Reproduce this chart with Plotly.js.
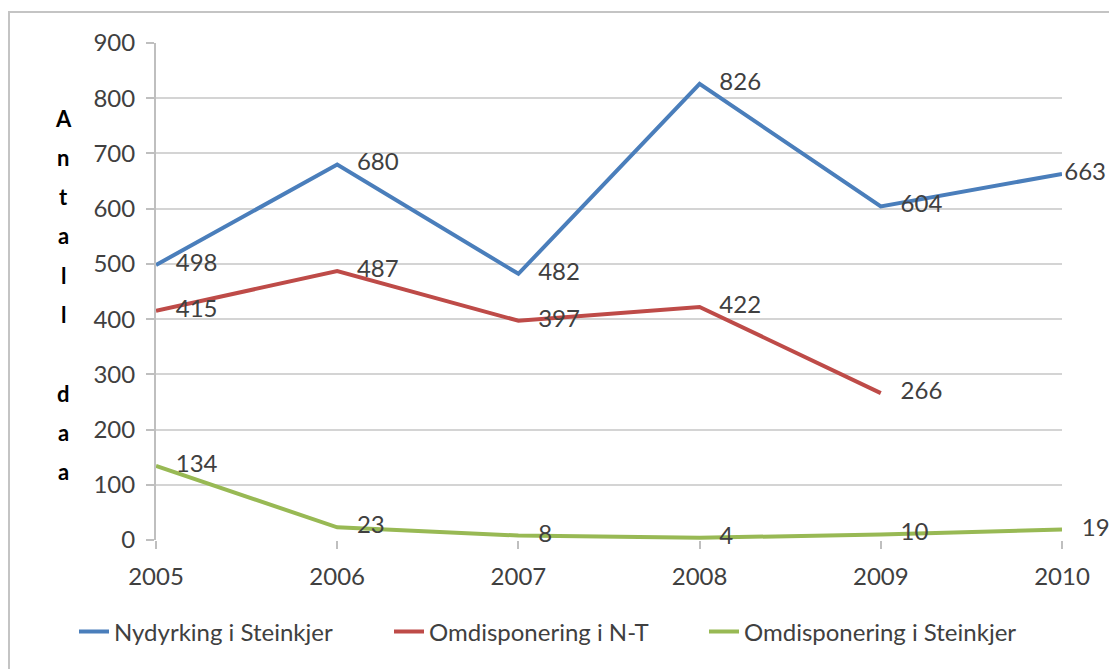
<!DOCTYPE html>
<html>
<head>
<meta charset="utf-8">
<script src="https://cdn.plot.ly/plotly-3.0.1.min.js"></script>
<style>html,body{margin:0;padding:0;background:#fff;}#chart{width:1109px;height:669px;}</style>
</head>
<body>
<div id="chart"></div>
<script>
const years = [2005, 2006, 2007, 2008, 2009, 2010];
const seriesNames = ["Nydyrking i Steinkjer", "Omdisponering i N-T", "Omdisponering i Steinkjer"];
const nydyrkingSteinkjer = [498, 680, 482, 826, 604, 663];
const omdispNT = [415, 487, 397, 422, 266, null];
const omdispSteinkjer = [134, 23, 8, 4, 10, 19];
const yTicks = [0, 100, 200, 300, 400, 500, 600, 700, 800, 900];
const yTitle = "Antall daa";

const colors = ["#4A7EBB", "#BE4B48", "#98B954"];
const font = "Lato, 'Open Sans', sans-serif";

function mk(name, vals, color, sizes) {
  return {
    x: years, y: vals, name: name, type: "scatter", mode: "lines+markers+text",
    line: {color: color, width: 4},
    marker: {size: sizes, color: "rgba(0,0,0,0)", line: {width: 0, color: "rgba(0,0,0,0)"}},
    text: vals.map(v => v === null ? "" : String(v)),
    textposition: "middle right",
    textfont: {family: font, size: 24, color: "#404040"},
    cliponaxis: false, hoverinfo: "skip", connectgaps: false
  };
}

const data = [
  mk(seriesNames[0], nydyrkingSteinkjer, colors[0], [30, 30, 30, 30, 30, 2]),
  mk(seriesNames[1], omdispNT, colors[1], 30),
  mk(seriesNames[2], omdispSteinkjer, colors[2], 30)
];

// plot area geometry (pixels) used for paper conversions of decorations
const W = 1109, H = 669, L = 156, R = 47, T = 43, B = 129;
const pw = W - L - R, ph = H - T - B;
const px = x => (x - L) / pw;
const py = y => (H - B - y) / ph;

const annotations = [];
const letters = yTitle.split("");
letters.forEach((c, i) => {
  if (c === " ") return;
  annotations.push({
    xref: "paper", yref: "paper", x: px(63), y: py(118 + i * 39.3),
    text: c, showarrow: false, xanchor: "center", yanchor: "middle",
    font: {family: font, size: 22, color: "#000", weight: "bold"}
  });
});

const layout = {
  width: W, height: H,
  margin: {l: L, r: R, t: T, b: B, pad: 0},
  paper_bgcolor: "#fff", plot_bgcolor: "#fff",
  showlegend: true,
  legend: {
    orientation: "h", x: px(74), xanchor: "left", y: py(632), yanchor: "middle",
    font: {family: font, size: 24, color: "#404040"},
    entrywidth: 270, entrywidthmode: "pixels", tracegroupgap: 0
  },
  xaxis: {
    range: [2005, 2010], tickvals: years, ticktext: years.map(String),
    showgrid: false, zeroline: false, showline: false,
    ticks: "outside", ticklen: 8, tickcolor: "#bfbfbf", tickwidth: 2,
    ticklabelstandoff: 7,
    tickfont: {family: font, size: 24, color: "#404040"}
  },
  yaxis: {
    range: [0, 900], tickvals: yTicks,
    showgrid: true, gridcolor: "#d4d4d4", gridwidth: 2,
    zeroline: false, showline: true, linecolor: "#bfbfbf", linewidth: 2,
    ticks: "outside", ticklen: 8, tickcolor: "#bfbfbf", tickwidth: 2,
    ticklabelstandoff: 6,
    tickfont: {family: font, size: 24, color: "#404040"}
  },
  shapes: [{
    type: "rect", xref: "paper", yref: "paper",
    x0: px(9), x1: px(1125), y0: py(690), y1: py(12),
    line: {color: "#c4c4c4", width: 2}, fillcolor: "rgba(0,0,0,0)", layer: "below"
  }],
  annotations: annotations
};

Plotly.newPlot("chart", data, layout, {displayModeBar: false, staticPlot: true});
</script>
</body>
</html>
